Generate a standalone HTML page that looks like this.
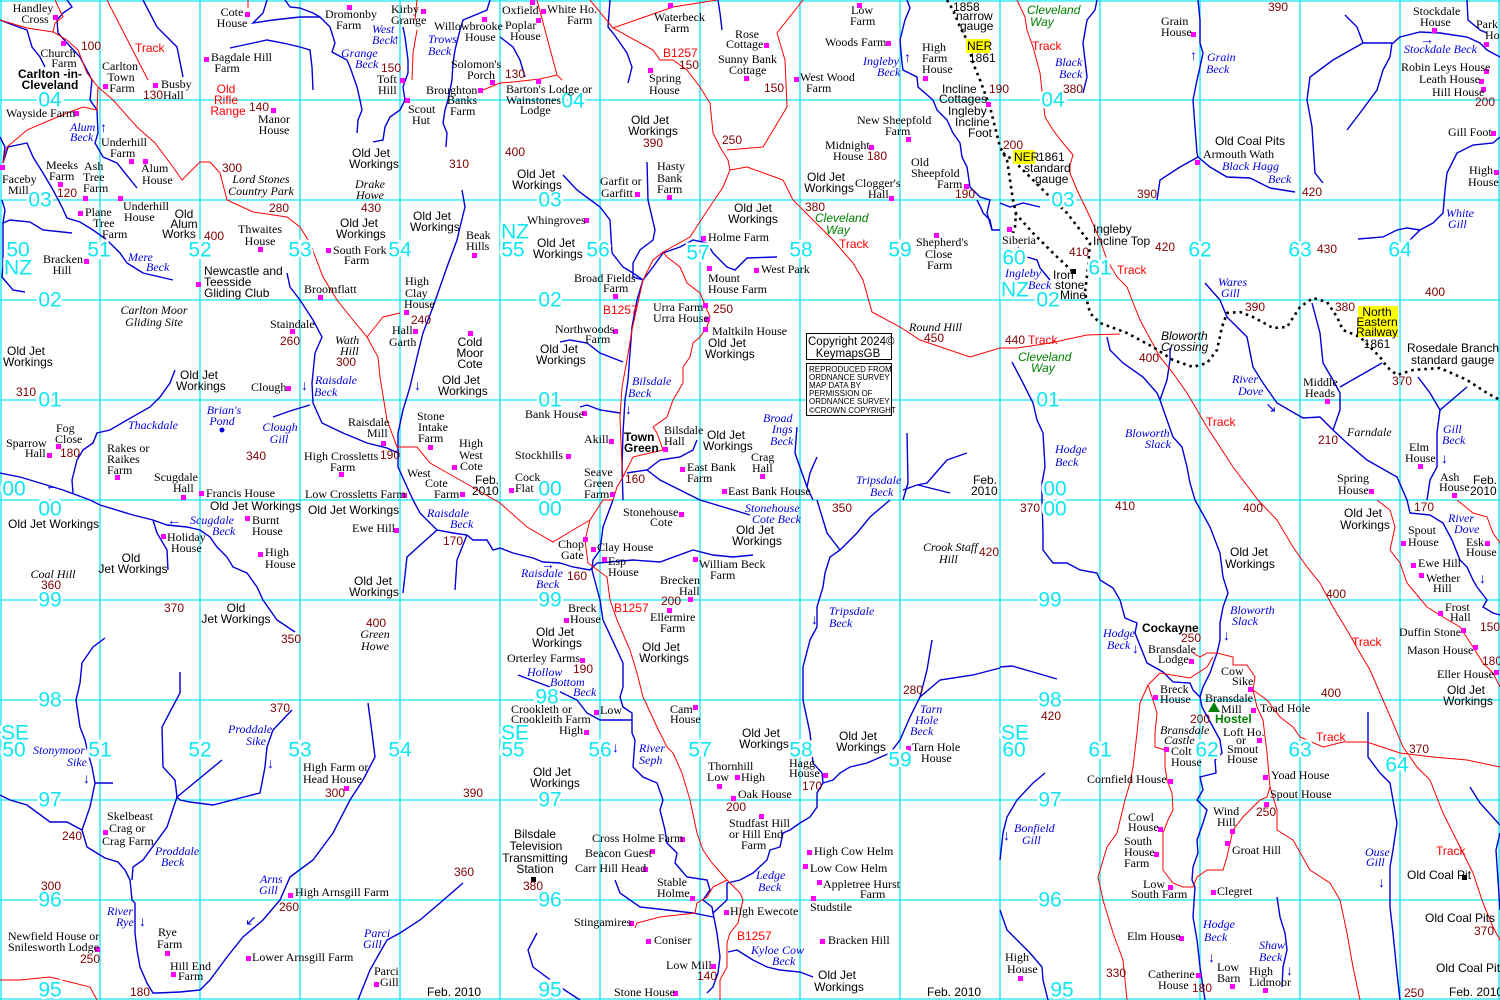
<!DOCTYPE html>
<html><head><meta charset="utf-8"><style>
html,body{margin:0;padding:0;background:#fff}
svg{display:block;font-size:12px}
.t{font-family:"Liberation Serif",serif;fill:#000}
.s{font-family:"Liberation Sans",sans-serif;fill:#000}
.h{font-family:"Liberation Sans",sans-serif;fill:#800000}
.b{font-family:"Liberation Serif",serif;font-style:italic;fill:#0000e0}
.r{font-family:"Liberation Sans",sans-serif;fill:#f00}
.g{font-family:"Liberation Sans",sans-serif;font-style:italic;fill:#008000}
.i{font-family:"Liberation Serif",serif;font-style:italic;fill:#000}
.k{font-family:"Liberation Sans",sans-serif;font-weight:bold;fill:#000}
.c{font-family:"Liberation Sans",sans-serif;font-size:21px;fill:#10e6f0;stroke:#fff;stroke-width:5px;paint-order:stroke;text-anchor:middle;dominant-baseline:central}
.m{text-anchor:middle}
.sm{font-family:"Liberation Sans",sans-serif;font-size:8px;fill:#000}
.bl{fill:none;stroke:#0000d8;stroke-width:1.4}
.rd{fill:none;stroke:#f00;stroke-width:1}
.rl{fill:none;stroke:#000;stroke-width:2.6;stroke-dasharray:2.6 4}
</style></head><body>
<svg width="1500" height="1000" viewBox="0 0 1500 1000" xmlns="http://www.w3.org/2000/svg" font-size="12">
<rect width="1500" height="1000" fill="#fff"/>
<g stroke="#10e6f0" stroke-width="1.3">
<path d="M1 0V1000M100 0V1000M200 0V1000M300 0V1000M400 0V1000M500 0V1000M600 0V1000M700 0V1000M800 0V1000M900 0V1000M1000 0V1000M1100 0V1000M1200 0V1000M1300 0V1000M1400 0V1000M1499 0V1000"/>
<path d="M0 1H1500M0 100H1500M0 200H1500M0 300H1500M0 400H1500M0 500H1500M0 600H1500M0 700H1500M0 800H1500M0 900H1500M0 999H1500"/>
</g>
<g class="bl">
<polyline points="67,0 72,7 63,13 57,20 58,33 67,43 80,57 92,80 90,100 97,110 98,133 95,143 103,157 117,163 137,188"/>
<polyline points="0,20 13,25 27,30 32,47 40,57 45,67"/>
<polyline points="0,137 5,147 3,163 8,147 27,143 33,157 43,173 53,190 62,207 67,218 80,222 93,230 107,240 120,253 127,263 143,273 173,280"/>
<polyline points="2,200 5,210 3,223 10,220 30,222 43,230 72,233"/>
<polyline points="3,223 3,267 2,277 13,290 25,292"/>
<polyline points="143,0 157,27 177,47 183,77"/>
<polyline points="230,48 253,43 267,40 283,43 300,47 310,50 312,67 313,90"/>
<polyline points="267,0 263,13 253,23 273,20 300,17 320,17 330,27 335,43 332,52 347,60 350,67 357,87 360,100 362,110 358,120 357,133"/>
<polyline points="285,0 290,7 300,8 313,13 320,17"/>
<polyline points="403,27 405,37 408,60 408,73 403,87 405,100 400,110 390,117 385,127 383,140 373,142"/>
<polyline points="490,0 487,10 480,13 463,20 460,30 455,50 453,63 452,80 448,100 445,110 443,123 447,133 446,147"/>
<polyline points="462,190 465,207 460,227 457,240 447,267 440,287 433,307 423,333 418,353 410,387 403,410 398,433 398,467 413,500 420,513 437,530 453,533 467,535 473,540 487,540 493,550 500,548 513,553 533,558 543,562 560,563 573,567 590,570"/>
<polyline points="287,273 290,287 300,300 313,320 322,337 315,353 312,383 313,403 322,423 343,433 367,443 387,448 398,453"/>
<polyline points="273,417 293,410 310,405"/>
<polyline points="175,370 170,383 160,397 150,407 127,420 110,430 97,433 93,443 83,450 77,460 72,480 73,493"/>
<polyline points="0,473 20,477 40,483 63,490 90,500 100,505 133,515 153,520 167,525 187,527 200,530 210,537 217,547 227,557 233,567 247,573 257,587 263,600 277,620 295,632"/>
<polyline points="153,520 157,533 167,550 168,570"/>
<polyline points="437,530 407,557 403,593"/>
<polyline points="467,535 457,560 455,590"/>
<polyline points="718,0 720,13 722,30"/>
<polyline points="610,0 608,27 613,33 618,40 627,53 632,67 628,83"/>
<polyline points="500,37 513,47 520,60 525,77"/>
<polyline points="563,175 577,190 600,207 610,220 612,253 623,267 633,273 643,280"/>
<polyline points="647,162 648,200 655,230 653,240 640,250 633,263 633,277 643,280"/>
<polyline points="643,280 653,267 663,253 680,247 693,240 707,243 713,253 727,267 735,270 747,258 777,257"/>
<polyline points="643,280 637,300 632,327 630,353 628,380 625,400 623,433 622,467 623,500"/>
<polyline points="560,342 570,340 587,343 600,353 623,362"/>
<polyline points="580,407 587,405 600,410 620,413"/>
<polyline points="697,440 693,450 680,457 660,460 647,470 633,472 627,473"/>
<polyline points="647,470 660,480 680,490 700,500 750,515"/>
<polyline points="797,427 795,453 802,473 807,487 813,500"/>
<polyline points="817,457 810,473 807,487"/>
<polyline points="907,433 908,483 903,500"/>
<polyline points="967,453 947,460 927,483 917,485 903,490"/>
<polyline points="918,485 950,493"/>
<polyline points="907,0 910,8 905,20 900,40 902,63 903,70 917,77 918,87 933,100 937,110 947,120 953,133 960,143 962,157 967,167 970,187 980,197 990,200 987,213 992,230 1000,230"/>
<polyline points="977,200 982,210 983,213 990,220 992,230"/>
<polyline points="1000,203 1010,207 1023,203 1040,207"/>
<polyline points="1018,247 1027,257 1037,260 1040,268 1050,280"/>
<polyline points="1097,0 1095,10 1087,20 1083,43 1085,60 1087,77 1083,93"/>
<polyline points="1198,0 1200,20 1200,43 1203,53 1200,67 1197,80 1193,100 1195,127 1197,153 1198,157"/>
<polyline points="1198,157 1180,167 1160,180 1157,200"/>
<polyline points="1198,157 1210,167 1227,177 1250,178 1270,188 1295,192"/>
<polyline points="1345,15 1357,27 1363,43 1393,43 1400,37 1420,32 1440,33 1467,37 1480,43 1487,50 1500,57"/>
<polyline points="1363,43 1333,60 1310,77 1307,100 1312,127 1313,143 1315,173 1323,183"/>
<polyline points="1392,43 1390,57 1383,70 1377,90 1360,113 1347,130"/>
<polyline points="1467,0 1468,20 1480,30 1487,33"/>
<polyline points="1500,137 1493,143 1473,145 1457,153 1447,173 1445,190 1443,213 1433,223 1420,230 1407,228 1397,230 1383,237 1358,239"/>
<polyline points="1420,230 1410,240"/>
<polyline points="1205,283 1220,300 1227,317 1247,337 1253,367 1263,383 1277,403 1303,418 1320,417 1333,430 1347,443 1367,460 1397,477 1407,500 1410,513 1430,515 1443,523 1452,540 1460,560 1467,567 1473,580 1477,587 1487,600 1483,607 1493,613 1500,615"/>
<polyline points="1312,303 1320,333 1323,363 1333,380 1340,393 1340,410 1333,430"/>
<polyline points="1340,387 1382,363"/>
<polyline points="1418,377 1430,393 1440,410 1467,387"/>
<polyline points="1440,410 1437,433 1437,467 1430,480 1427,500"/>
<polyline points="1107,337 1110,350 1123,363 1143,377 1157,393 1160,400 1167,420 1173,437 1182,447 1187,467 1190,483 1195,500 1210,527 1220,553 1223,577 1228,593 1223,607 1220,623 1220,640 1217,653 1210,673 1203,687 1200,697"/>
<polyline points="1160,400 1167,380 1170,360 1170,348"/>
<polyline points="1012,362 1023,383 1033,403 1037,420 1043,433 1045,467 1042,483 1042,500 1043,533 1043,550 1053,563 1067,563 1080,570 1097,573 1100,580 1113,588 1120,600 1125,618 1137,623 1135,633 1143,653 1147,663 1163,672 1173,682 1190,683 1193,690 1200,697"/>
<polyline points="105,638 93,647 82,663 80,683 76,700 80,727 85,740 88,753 92,767 95,783 90,807 82,830 87,847 100,855 105,858 118,862 125,870 130,880 132,900 135,903 135,933 137,950 140,967 147,983 153,993 157,993 180,992 200,990"/>
<polyline points="95,783 113,783"/>
<polyline points="0,795 10,800 27,805 50,822 67,822 82,830"/>
<polyline points="180,672 180,693 162,727 163,767 175,780 177,797 180,800 190,802 213,805 240,798 260,793 265,767 267,747 273,730 292,710"/>
<polyline points="222,760 177,797 167,827 143,860 133,867 132,880"/>
<polyline points="368,703 372,733 375,757 363,780 350,800 333,833 313,860 290,877 280,900 263,920 243,937 227,957 210,980 200,990"/>
<polyline points="463,883 440,903 420,920 400,933 387,940 370,970 358,1000"/>
<polyline points="613,500 603,527 600,550 593,560 592,570 600,600 603,620 617,650 623,663 623,687 620,697 623,707 632,713 632,733 635,740 633,767 643,777 657,783 663,800 660,810 665,830 667,843 677,853 675,863 687,877 707,880 710,890 703,900 712,907 713,913 717,933 720,957 718,973 713,987 707,993"/>
<polyline points="518,675 550,687 577,700 587,713 600,720 632,720"/>
<polyline points="615,880 620,893 640,907 667,910 693,913 713,917"/>
<polyline points="537,933 528,950 533,967 560,987 580,1000"/>
<polyline points="713,913 727,900 727,883 740,880 753,873 767,860 770,850 780,847 783,833 790,830 800,823 810,817 817,807 817,793 823,783 822,773 813,763 810,733 803,700 803,667 810,640 817,627 817,607 823,587 825,573 830,557 840,550 827,533 817,500"/>
<polyline points="840,550 857,533 870,517 890,500"/>
<polyline points="823,783 833,780 840,773 850,767 867,763 890,753 900,740 910,717 920,697 927,670 932,640"/>
<polyline points="920,697 940,680 973,675 1000,668"/>
<polyline points="728,952 737,950 753,960 767,967 780,970 800,972 813,977"/>
<polyline points="590,570 597,563 610,562 633,560 660,562 693,550 713,555 733,557 753,555"/>
<polyline points="1200,697 1202,707 1213,727 1220,740 1222,753 1215,760 1216,773 1200,777 1203,790 1197,800 1207,810 1203,823 1197,840 1198,853 1193,867 1192,880 1195,887 1193,917 1197,940 1200,967 1203,987 1205,1000"/>
<polyline points="1000,667 1012,666 1033,672 1057,679"/>
<polyline points="1045,773 1033,783 1017,800 1007,817 1003,833 1000,860"/>
<polyline points="1000,910 1007,930 1020,943 1030,953 1042,967 1043,980 1048,1000"/>
<polyline points="1368,712 1368,757 1380,773 1390,783 1393,800 1397,823 1393,850 1390,867 1390,907 1393,933 1397,973 1400,1000"/>
<polyline points="1277,897 1280,917 1285,933 1287,950 1283,967 1282,987"/>
<polyline points="1470,787 1480,803 1500,825"/>
<polyline points="1500,833 1496,850 1500,910"/>
</g>
<g class="b" style="font-style:normal;font-size:14px">
<text x="100" y="132">↑</text><text x="393" y="44">↑</text><text x="1190" y="60">↑</text><text x="904" y="62">↑</text>
<text x="301" y="390">↓</text><text x="414" y="390">↓</text><text x="625" y="414">↓</text><text x="612" y="752">↓</text>
<text x="811" y="624">↓</text><text x="267" y="768">↓</text><text x="83" y="783">↓</text><text x="139" y="926">↓</text>
<text x="1132" y="653">↓</text><text x="1223" y="640">↓</text><text x="1441" y="463">↓</text><text x="1479" y="583">↓</text>
<text x="1003" y="840">↓</text><text x="1378" y="887">↓</text><text x="1208" y="962">↓</text><text x="1286" y="975">↓</text>
<text x="45" y="490">←</text><text x="167" y="525">←</text><text x="541" y="569">→</text><text x="1420" y="44">→</text>
<text x="1265" y="412">↘</text><text x="245" y="925">↙</text>
</g>
<g class="rd">
<polyline points="0,20 27,28 53,32"/>
<polyline points="55,0 63,17 55,23 53,32 55,33 67,40 78,50 87,73 98,87 97,110 83,107 67,113 27,130 7,147 3,163"/>
<polyline points="98,87 113,100 137,127 155,143 173,167 182,180 200,162 210,162 220,173 227,200 253,212 287,217 300,227 310,243 323,277 337,300 353,320 367,337 378,357 380,377 387,420 397,447 417,447 430,463 460,480 500,503 527,527 553,542 573,530 590,520"/>
<polyline points="367,337 383,317 400,313"/>
<polyline points="107,0 148,80"/>
<polyline points="248,0 248,8"/>
<polyline points="417,30 413,53 412,80"/>
<polyline points="417,0 415,20"/>
<polyline points="483,90 500,83 513,82 540,79 557,75 562,80"/>
<polyline points="537,0 557,75"/>
<polyline points="590,0 613,28 653,50 660,60 673,60 687,70 700,87 710,103 713,133 720,147 728,160 730,170 723,187 703,217 690,237 663,252 653,260 643,280 637,307 632,330 627,360 622,387 620,417 622,467 623,477 617,487 613,500 603,500 590,520 585,540 588,563 607,577 610,600 617,620 630,650 637,673 643,697 657,727 667,747 673,753 682,773 690,800 697,833 703,850 712,863 727,880 740,893 743,900 738,923 730,933 727,943 727,967 720,980 720,1000"/>
<polyline points="613,28 673,7 717,0"/>
<polyline points="803,0 777,33 785,60 787,107 763,147 727,150"/>
<polyline points="730,170 747,167 783,180 793,200 833,240 853,263 863,280 872,312 900,327 920,340 970,357 1000,348 1017,348 1050,343 1087,335 1120,334"/>
<polyline points="663,252 667,257 680,267 687,283 700,293 703,300 710,317 707,327 700,337 693,343 690,357 683,367 683,383 673,400 667,417 653,427 657,433 663,450 650,453 633,457 623,477"/>
<polyline points="1017,0 1025,17 1027,30 1033,47 1040,73 1043,100 1045,117 1053,130 1063,143 1073,155 1070,165 1070,173 1077,190 1090,217 1100,240 1107,260 1117,277 1127,287 1132,300 1140,320 1147,333 1160,357 1173,373 1187,393 1207,427 1233,467 1258,500 1277,520 1293,547 1307,567 1320,583 1333,607 1347,630 1360,653 1370,670 1383,700 1393,723 1403,747 1417,767 1430,780 1443,813 1460,847 1473,873 1483,903 1493,927 1500,940"/>
<polyline points="1377,500 1390,510 1395,527 1390,550 1400,563 1407,583 1427,607 1443,617 1460,627 1473,647 1483,663 1493,673 1500,687"/>
<polyline points="1457,500 1473,513 1487,517 1493,533 1500,543"/>
<polyline points="1193,653 1200,657 1207,653 1217,653 1233,657 1233,665 1247,665 1255,677 1253,690 1257,707 1263,720 1267,753 1270,787 1267,797 1260,800 1253,807 1243,817 1233,830 1230,843 1227,857 1223,870 1207,870 1197,877 1193,887 1183,887 1173,883 1163,870 1163,853 1163,833 1168,820 1173,810 1172,793 1167,780 1165,767 1165,750 1155,747 1155,733 1157,713 1153,700 1148,685 1160,673 1190,678 1207,667 1213,657"/>
<polyline points="1148,685 1140,703 1137,733 1133,767 1130,783 1125,800 1117,833 1107,847 1098,877 1103,900 1113,933 1123,960 1127,1000"/>
<polyline points="1253,690 1267,700 1280,717 1293,727 1300,737 1323,747 1343,742 1367,742 1400,753 1433,757 1467,760 1500,767"/>
<polyline points="1270,787 1277,810 1277,830 1293,840 1310,870 1330,883 1340,900 1347,933 1353,967 1360,1000"/>
<polyline points="0,980 20,980 50,977 90,987 97,1000"/>
<polyline points="727,880 713,887 707,897 697,903 695,913 660,917 637,923 635,928"/>
</g>
<g class="rl">
<polyline points="947,0 953,10 960,27 967,40 973,63 980,80 990,107 1000,147 1007,160 1010,180 1013,200 1016,213 1015,227 1013,233"/>
<polyline points="1003,153 1013,160 1030,177 1050,197 1067,213 1090,243 1088,267 1085,293 1090,313 1100,323 1127,333 1153,347 1173,360 1193,367 1207,363 1217,350 1222,327 1227,313 1240,312 1253,317 1273,328 1287,327 1300,307 1313,298 1327,302 1337,317 1343,330 1360,337 1380,357 1387,367 1397,375 1413,370 1440,368 1467,380 1487,393 1500,400"/>
<polyline points="1015,213 1033,233 1053,253 1073,272"/>
</g>
<rect x="966" y="39" width="24" height="14" fill="#ff0"/>
<rect x="1013" y="150" width="22" height="14" fill="#ff0"/>
<rect x="1358" y="306" width="40" height="31" fill="#ff0"/>
<rect x="806.5" y="333.5" width="85" height="26" fill="#fff" stroke="#000"/>
<rect x="806.5" y="363.5" width="85" height="52" fill="#fff" stroke="#000"/>
<text class="s" x="808" y="345" style="font-size:11.5px">Copyright 2024©</text>
<text class="s" x="848" y="357" text-anchor="middle" style="font-size:11.5px">KeymapsGB</text>
<text class="sm" x="809" y="372">REPRODUCED FROM</text>
<text class="sm" x="809" y="380">ORDNANCE SURVEY</text>
<text class="sm" x="809" y="388">MAP DATA BY</text>
<text class="sm" x="809" y="396">PERMISSION OF</text>
<text class="sm" x="809" y="404">ORDNANCE SURVEY</text>
<text class="sm" x="809" y="413">©CROWN COPYRIGHT</text>
<path fill="#f0f" d="M53 15h5v5h-5zM61 41h5v5h-5zM103 84h5v5h-5zM153 83h5v5h-5zM245 12h5v5h-5zM204 57h5v5h-5zM271 108h5v5h-5zM74 111h5v5h-5zM129 159h5v5h-5zM143 159h5v5h-5zM58 182h5v5h-5zM83 196h5v5h-5zM0 165h5v5h-5zM118 196h5v5h-5zM78 211h5v5h-5zM258 247h5v5h-5zM84 259h5v5h-5zM196 282h5v5h-5zM318 295h5v5h-5zM290 329h5v5h-5zM404 310h5v5h-5zM413 329h5v5h-5zM468 331h5v5h-5zM286 386h5v5h-5zM472 253h5v5h-5zM326 248h5v5h-5zM347 5h5v5h-5zM421 9h5v5h-5zM400 78h5v5h-5zM482 17h5v5h-5zM490 80h5v5h-5zM478 88h5v5h-5zM405 98h5v5h-5zM47 453h5v5h-5zM56 444h5v5h-5zM115 475h5v5h-5zM181 495h5v5h-5zM199 491h5v5h-5zM339 472h5v5h-5zM381 441h5v5h-5zM428 445h5v5h-5zM452 465h5v5h-5zM460 492h5v5h-5zM402 493h5v5h-5zM530 0h5v5h-5zM536 18h5v5h-5zM541 9h5v5h-5zM536 79h5v5h-5zM668 3h5v5h-5zM648 68h5v5h-5zM764 43h5v5h-5zM744 76h5v5h-5zM794 77h5v5h-5zM857 3h5v5h-5zM886 41h5v5h-5zM923 76h5v5h-5zM986 102h5v5h-5zM906 137h5v5h-5zM869 145h5v5h-5zM889 196h5v5h-5zM964 184h5v5h-5zM667 195h5v5h-5zM635 192h5v5h-5zM584 218h5v5h-5zM701 236h5v5h-5zM707 266h5v5h-5zM754 268h5v5h-5zM934 233h5v5h-5zM613 294h5v5h-5zM703 303h5v5h-5zM705 317h5v5h-5zM613 329h5v5h-5zM703 327h5v5h-5zM582 411h5v5h-5zM609 439h5v5h-5zM663 447h5v5h-5zM760 474h5v5h-5zM566 454h5v5h-5zM680 467h5v5h-5zM509 488h5v5h-5zM610 492h5v5h-5zM722 489h5v5h-5zM1191 32h5v5h-5zM1432 28h5v5h-5zM1484 42h5v5h-5zM1484 69h5v5h-5zM1479 79h5v5h-5zM1481 87h5v5h-5zM1491 131h5v5h-5zM1494 170h5v5h-5zM1195 160h5v5h-5zM1007 227h5v5h-5zM1325 399h5v5h-5zM1418 464h5v5h-5zM1369 489h5v5h-5zM1452 493h5v5h-5zM161 534h5v5h-5zM245 516h5v5h-5zM258 552h5v5h-5zM394 528h5v5h-5zM103 830h5v5h-5zM344 786h5v5h-5zM288 893h5v5h-5zM95 947h5v5h-5zM165 951h5v5h-5zM171 972h5v5h-5zM246 956h5v5h-5zM374 982h5v5h-5zM679 512h5v5h-5zM583 537h5v5h-5zM591 547h5v5h-5zM602 557h5v5h-5zM693 557h5v5h-5zM688 597h5v5h-5zM667 608h5v5h-5zM564 618h5v5h-5zM580 658h5v5h-5zM584 730h5v5h-5zM594 710h5v5h-5zM693 705h5v5h-5zM906 746h5v5h-5zM735 775h5v5h-5zM717 784h5v5h-5zM823 773h5v5h-5zM731 796h5v5h-5zM759 814h5v5h-5zM680 837h5v5h-5zM650 849h5v5h-5zM643 867h5v5h-5zM807 850h5v5h-5zM803 864h5v5h-5zM817 880h5v5h-5zM690 896h5v5h-5zM811 896h5v5h-5zM724 910h5v5h-5zM629 921h5v5h-5zM646 939h5v5h-5zM820 939h5v5h-5zM711 964h5v5h-5zM673 991h5v5h-5zM1401 541h5v5h-5zM1485 541h5v5h-5zM1411 563h5v5h-5zM1419 573h5v5h-5zM1438 611h5v5h-5zM1461 628h5v5h-5zM1189 659h5v5h-5zM1473 645h5v5h-5zM1248 687h5v5h-5zM1494 670h5v5h-5zM1153 695h5v5h-5zM1251 708h5v5h-5zM1164 747h5v5h-5zM1257 738h5v5h-5zM1168 779h5v5h-5zM1263 775h5v5h-5zM1264 802h5v5h-5zM1158 827h5v5h-5zM1230 829h5v5h-5zM1154 852h5v5h-5zM1225 841h5v5h-5zM1168 885h5v5h-5zM1211 890h5v5h-5zM1179 936h5v5h-5zM1018 976h5v5h-5zM1196 973h5v5h-5zM1230 984h5v5h-5zM1263 988h5v5h-5z"/>
<path fill="#000" d="M1071 269h5v5h-5zM531 877h5v5h-5zM1462 875h5v5h-5z"/>
<circle cx="222" cy="430" r="2.5" fill="#0000d8"/>
<path d="M1208 712l6 -10l6 10z" fill="#008000"/>
<g class="c">
<text x="50" y="100">04</text><text x="573" y="101">04</text><text x="1053" y="100">04</text>
<text x="40" y="200">03</text><text x="550" y="200">03</text><text x="1063" y="200">03</text>
<text x="50" y="300">02</text><text x="550" y="300">02</text><text x="1048" y="300">02</text>
<text x="50" y="400">01</text><text x="550" y="400">01</text><text x="1048" y="400">01</text>
<text x="14" y="489">00</text><text x="50" y="509">00</text><text x="550" y="489">00</text><text x="550" y="509">00</text><text x="1055" y="489">00</text><text x="1055" y="509">00</text>
<text x="50" y="600">99</text><text x="550" y="600">99</text><text x="1050" y="600">99</text>
<text x="50" y="700">98</text><text x="547" y="697">98</text><text x="1050" y="700">98</text>
<text x="50" y="800">97</text><text x="550" y="800">97</text><text x="1050" y="800">97</text>
<text x="50" y="900">96</text><text x="550" y="900">96</text><text x="1050" y="900">96</text>
<text x="50" y="990">95</text><text x="550" y="990">95</text><text x="1062" y="990">95</text>
<text x="18" y="250">50</text><text x="18" y="268">NZ</text><text x="99" y="250">51</text><text x="200" y="250">52</text><text x="300" y="250">53</text><text x="400" y="250">54</text>
<text x="515" y="232">NZ</text><text x="513" y="250">55</text><text x="598" y="250">56</text><text x="698" y="253">57</text><text x="801" y="250">58</text><text x="900" y="250">59</text>
<text x="1014" y="258">60</text><text x="1015" y="290">NZ</text><text x="1100" y="268">61</text><text x="1200" y="250">62</text><text x="1300" y="250">63</text><text x="1400" y="250">64</text>
<text x="15" y="733">SE</text><text x="14" y="750">50</text><text x="100" y="750">51</text><text x="200" y="750">52</text><text x="300" y="750">53</text><text x="400" y="750">54</text>
<text x="515" y="733">SE</text><text x="513" y="750">55</text><text x="600" y="750">56</text><text x="700" y="750">57</text><text x="801" y="750">58</text><text x="900" y="760">59</text>
<text x="1015" y="733">SE</text><text x="1014" y="750">60</text><text x="1100" y="750">61</text><text x="1207" y="750">62</text><text x="1300" y="750">63</text><text x="1397" y="765">64</text>
</g>
<g class="t">
<text x="33" y="12" class="t m">Handley</text><text x="35" y="23" class="t m">Cross</text>
<text x="58" y="57" class="t m">Church</text><text x="64" y="67" class="t m">Farm</text>
<text x="120" y="70" class="t m">Carlton</text><text x="121" y="81" class="t m">Town</text><text x="122" y="92" class="t m">Farm</text>
<text x="161" y="88">Busby</text><text x="163" y="99">Hall</text>
<text x="232" y="16" class="t m">Cote</text><text x="232" y="27" class="t m">House</text>
<text x="211" y="61">Bagdale Hill</text><text x="227" y="72" class="t m">Farm</text>
<text x="274" y="123" class="t m">Manor</text><text x="274" y="134" class="t m">House</text>
<text x="6" y="117">Wayside Farm</text>
<text x="101" y="146">Underhill</text><text x="110" y="157">Farm</text>
<text x="141" y="172">Alum</text><text x="142" y="184">House</text>
<text x="46" y="169">Meeks</text><text x="49" y="180">Farm</text>
<text x="84" y="170">Ash</text><text x="83" y="181">Tree</text><text x="83" y="192">Farm</text>
<text x="2" y="183">Faceby</text><text x="8" y="194">Mill</text>
<text x="85" y="216">Plane</text><text x="93" y="227">Tree</text><text x="102" y="238">Farm</text>
<text x="123" y="210">Underhill</text><text x="124" y="221">House</text>
<text x="260" y="233" class="t m">Thwaites</text><text x="260" y="245" class="t m">House</text>
<text x="43" y="263">Bracken</text><text x="62" y="274" class="t m">Hill</text>
<text x="304" y="293">Broomflatt</text>
<text x="270" y="328">Staindale</text>
<text x="405" y="285">High</text><text x="405" y="297">Clay</text><text x="404" y="308">House</text>
<text x="392" y="334">Hall</text><text x="389" y="346">Garth</text>
<text x="251" y="391">Clough</text>
<text x="466" y="239">Beak</text><text x="466" y="250">Hills</text>
<text x="333" y="254">South Fork</text><text x="344" y="264">Farm</text>
<text x="325" y="18">Dromonby</text><text x="336" y="29">Farm</text>
<text x="391" y="13">Kirby</text><text x="391" y="24">Grange</text>
<text x="377" y="83">Toft</text><text x="378" y="94">Hill</text>
<text x="434" y="30">Willowbrooke</text><text x="465" y="41">House</text>
<text x="451" y="68">Solomon's</text><text x="467" y="79">Porch</text>
<text x="426" y="94">Broughton</text><text x="447" y="104">Banks</text><text x="450" y="115">Farm</text>
<text x="408" y="113">Scout</text><text x="412" y="124">Hut</text>
<text x="6" y="447">Sparrow</text><text x="25" y="457">Hall</text>
<text x="56" y="432">Fog</text><text x="55" y="443">Close</text>
<text x="107" y="452">Rakes or</text><text x="107" y="463">Raikes</text><text x="107" y="474">Farm</text>
<text x="154" y="481">Scugdale</text><text x="173" y="492">Hall</text>
<text x="206" y="497">Francis House</text>
<text x="304" y="460">High Crossletts</text><text x="330" y="471">Farm</text>
<text x="348" y="426">Raisdale</text><text x="367" y="437">Mill</text>
<text x="417" y="420">Stone</text><text x="418" y="431">Intake</text><text x="418" y="442">Farm</text>
<text x="459" y="447">High</text><text x="459" y="459">West</text><text x="460" y="470">Cote</text>
<text x="407" y="477">West</text><text x="425" y="487">Cote</text><text x="434" y="498">Farm</text>
<text x="305" y="498">Low Crossletts Farm</text>
<text x="502" y="14">Oxfield</text><text x="505" y="29">Poplar</text><text x="510" y="40">House</text>
<text x="547" y="13">White Ho.</text><text x="567" y="24">Farm</text>
<text x="506" y="93">Barton's Lodge or</text><text x="506" y="104">Wainstones</text><text x="520" y="114">Lodge</text>
<text x="654" y="21">Waterbeck</text><text x="664" y="32">Farm</text>
<text x="649" y="82">Spring</text><text x="649" y="94">House</text>
<text x="735" y="38">Rose</text><text x="726" y="48">Cottage</text>
<text x="718" y="63">Sunny Bank</text><text x="729" y="74">Cottage</text>
<text x="800" y="81">West Wood</text><text x="806" y="92">Farm</text>
<text x="851" y="14">Low</text><text x="850" y="25">Farm</text>
<text x="825" y="46">Woods Farm</text>
<text x="922" y="51">High</text><text x="922" y="62">Farm</text><text x="922" y="73">House</text>
<text x="857" y="124">New Sheepfold</text><text x="885" y="135">Farm</text>
<text x="825" y="149">Midnight</text><text x="833" y="160">House</text>
<text x="855" y="187">Clogger's</text><text x="868" y="198">Hall</text>
<text x="911" y="166">Old</text><text x="911" y="177">Sheepfold</text><text x="937" y="188">Farm</text>
<text x="657" y="170">Hasty</text><text x="657" y="182">Bank</text><text x="657" y="193">Farm</text>
<text x="600" y="185">Garfit or</text><text x="601" y="197">Garfitt</text>
<text x="527" y="224">Whingroves</text>
<text x="708" y="241">Holme Farm</text>
<text x="708" y="282">Mount</text><text x="708" y="293">House Farm</text>
<text x="761" y="273">West Park</text>
<text x="916" y="246">Shepherd's</text><text x="925" y="258">Close</text><text x="927" y="269">Farm</text>
<text x="574" y="282">Broad Fields</text><text x="603" y="292">Farm</text>
<text x="653" y="311">Urra Farm</text><text x="653" y="322">Urra House</text>
<text x="555" y="333">Northwoods</text><text x="585" y="343">Farm</text>
<text x="712" y="335">Maltkiln House</text>
<text x="525" y="418">Bank House</text>
<text x="584" y="443">Akill</text>
<text x="664" y="434">Bilsdale</text><text x="664" y="445">Hall</text>
<text x="751" y="461">Crag</text><text x="752" y="472">Hall</text>
<text x="515" y="459">Stockhills</text>
<text x="687" y="471">East Bank</text><text x="687" y="482">Farm</text>
<text x="515" y="481">Cock</text><text x="515" y="492">Flat</text>
<text x="584" y="476">Seave</text><text x="584" y="487">Green</text><text x="584" y="498">Farm</text>
<text x="728" y="495">East Bank House</text>
<text x="1161" y="25">Grain</text><text x="1161" y="36">House</text>
<text x="1413" y="15">Stockdale</text><text x="1420" y="26">House</text>
<text x="1476" y="28">Park</text><text x="1485" y="39">Ho</text>
<text x="1401" y="71">Robin Leys House</text><text x="1419" y="83">Leath House</text><text x="1432" y="96">Hill House</text>
<text x="1448" y="136">Gill Foot</text>
<text x="1469" y="174">High</text><text x="1468" y="186">House</text>
<text x="1203" y="158">Armouth Wath</text>
<text x="1002" y="244">Siberia</text>
<text x="1303" y="386">Middle</text><text x="1305" y="397">Heads</text>
<text x="1409" y="451">Elm</text><text x="1405" y="462">House</text>
<text x="1337" y="482">Spring</text><text x="1338" y="494">House</text>
<text x="1440" y="481">Ash</text><text x="1439" y="491">House</text>
<text x="167" y="541">Holiday</text><text x="171" y="552">House</text>
<text x="252" y="524">Burnt</text><text x="252" y="535">House</text>
<text x="265" y="556">High</text><text x="265" y="568">House</text>
<text x="352" y="532">Ewe Hill</text>
<text x="303" y="771">High Farm or</text><text x="303" y="783">Head House</text>
<text x="107" y="820">Skelbeast</text><text x="109" y="832">Crag or</text><text x="102" y="845">Crag Farm</text>
<text x="295" y="896">High Arnsgill Farm</text>
<text x="8" y="940">Newfield House or</text><text x="8" y="951">Snilesworth Lodge</text>
<text x="158" y="936">Rye</text><text x="157" y="948">Farm</text>
<text x="170" y="970">Hill End</text><text x="178" y="980">Farm</text>
<text x="252" y="961">Lower Arnsgill Farm</text>
<text x="374" y="975">Parci</text><text x="380" y="986">Gill</text>
<text x="623" y="516">Stonehouse</text><text x="650" y="526">Cote</text>
<text x="558" y="548">Chop</text><text x="561" y="559">Gate</text>
<text x="597" y="551">Clay House</text>
<text x="608" y="565">Esp</text><text x="608" y="576">House</text>
<text x="699" y="568">William Beck</text><text x="710" y="579">Farm</text>
<text x="660" y="584">Brecken</text><text x="679" y="595">Hall</text>
<text x="650" y="621">Ellermire</text><text x="660" y="632">Farm</text>
<text x="568" y="612">Breck</text><text x="570" y="623">House</text>
<text x="507" y="662">Orterley Farms</text>
<text x="511" y="713">Crookleth or</text><text x="511" y="723">Crookleith Farm</text><text x="559" y="734">High</text>
<text x="600" y="714">Low</text>
<text x="670" y="713">Cam</text><text x="670" y="723">House</text>
<text x="912" y="751">Tarn Hole</text><text x="921" y="762">House</text>
<text x="708" y="770">Thornhill</text><text x="741" y="781">High</text><text x="707" y="781">Low</text>
<text x="789" y="767">Hagg</text><text x="789" y="777">House</text>
<text x="738" y="798">Oak House</text>
<text x="729" y="827">Studfast Hill</text><text x="729" y="838">or Hill End</text><text x="741" y="849">Farm</text>
<text x="592" y="842">Cross Holme Farm</text>
<text x="585" y="857">Beacon Guest</text>
<text x="575" y="872">Carr Hill Head</text>
<text x="814" y="855">High Cow Helm</text>
<text x="810" y="872">Low Cow Helm</text>
<text x="823" y="888">Appletree Hurst</text><text x="860" y="898">Farm</text>
<text x="657" y="886">Stable</text><text x="657" y="897">Holme</text>
<text x="810" y="911">Studstile</text>
<text x="730" y="915">High Ewecote</text>
<text x="574" y="926">Stingamires</text>
<text x="654" y="944">Coniser</text>
<text x="828" y="944">Bracken Hill</text>
<text x="666" y="969">Low Mill</text>
<text x="614" y="996">Stone House</text>
<text x="1408" y="534">Spout</text><text x="1408" y="546">House</text>
<text x="1466" y="546">Esk</text><text x="1466" y="556">House</text>
<text x="1418" y="567">Ewe Hill</text>
<text x="1426" y="582">Wether</text><text x="1433" y="592">Hill</text>
<text x="1445" y="611">Frost</text><text x="1450" y="621">Hall</text>
<text x="1399" y="636">Duffin Stone</text>
<text x="1148" y="653">Bransdale</text><text x="1158" y="663">Lodge</text>
<text x="1407" y="654">Mason House</text>
<text x="1221" y="675">Cow</text><text x="1232" y="685">Sike</text>
<text x="1437" y="678">Eller House</text>
<text x="1160" y="693">Breck</text><text x="1160" y="703">House</text>
<text x="1205" y="702">Bransdale</text><text x="1221" y="713">Mill</text>
<text x="1260" y="712">Toad Hole</text>
<text x="1171" y="755">Colt</text><text x="1171" y="766">House</text>
<text x="1223" y="736">Loft Ho.</text><text x="1236" y="744">or</text><text x="1227" y="753">Smout</text><text x="1227" y="763">House</text>
<text x="1087" y="783">Cornfield House</text>
<text x="1271" y="779">Yoad House</text>
<text x="1270" y="798">Spout House</text>
<text x="1128" y="821">Cowl</text><text x="1128" y="831">House</text>
<text x="1213" y="815">Wind</text><text x="1217" y="826">Hill</text>
<text x="1124" y="845">South</text><text x="1124" y="856">House</text><text x="1124" y="867">Farm</text>
<text x="1232" y="854">Groat Hill</text>
<text x="1143" y="888">Low</text><text x="1131" y="898">South Farm</text>
<text x="1217" y="895">Clegret</text>
<text x="1127" y="940">Elm House</text>
<text x="1005" y="961">High</text><text x="1007" y="973">House</text>
<text x="1148" y="978">Catherine</text><text x="1158" y="989">House</text>
<text x="1217" y="971">Low</text><text x="1217" y="982">Barn</text>
<text x="1249" y="975">High</text><text x="1249" y="986">Lidmoor</text>
</g>
<g class="s">
<text x="184" y="218" class="s m">Old</text><text x="184" y="228" class="s m">Alum</text><text x="179" y="238" class="s m">Works</text>
<text x="204" y="275">Newcastle and</text><text x="204" y="286">Teesside</text><text x="204" y="297">Gliding Club</text>
<text x="7" y="355">Old Jet</text><text x="3" y="366">Workings</text>
<text x="470" y="346" class="s m">Cold</text><text x="470" y="357" class="s m">Moor</text><text x="470" y="368" class="s m">Cote</text>
<text x="180" y="379">Old Jet</text><text x="176" y="390">Workings</text>
<text x="442" y="384">Old Jet</text><text x="438" y="395">Workings</text>
<text x="413" y="220">Old Jet</text><text x="410" y="231">Workings</text>
<text x="340" y="227">Old Jet</text><text x="336" y="238">Workings</text>
<text x="371" y="157" class="s m">Old Jet</text><text x="374" y="168" class="s m">Workings</text>
<text x="475" y="484">Feb.</text><text x="472" y="495">2010</text>
<text x="953" y="11">1858</text><text x="956" y="20">narrow</text><text x="960" y="30">gauge</text>
<text x="967" y="50">NER</text><text x="969" y="62">1861</text>
<text x="942" y="93">Incline</text><text x="939" y="103">Cottages</text><text x="948" y="115">Ingleby</text><text x="955" y="126">Incline</text><text x="968" y="137">Foot</text>
<text x="650" y="124" class="s m">Old Jet</text><text x="653" y="135" class="s m">Workings</text>
<text x="826" y="181" class="s m">Old Jet</text><text x="829" y="192" class="s m">Workings</text>
<text x="536" y="178" class="s m">Old Jet</text><text x="537" y="189" class="s m">Workings</text>
<text x="537" y="247">Old Jet</text><text x="533" y="258">Workings</text>
<text x="753" y="212" class="s m">Old Jet</text><text x="753" y="223" class="s m">Workings</text>
<text x="708" y="347">Old Jet</text><text x="705" y="358">Workings</text>
<text x="540" y="353">Old Jet</text><text x="536" y="364">Workings</text>
<text x="707" y="439">Old Jet</text><text x="703" y="450">Workings</text>
<text x="973" y="484">Feb.</text><text x="971" y="495">2010</text>
<text x="1014" y="161">NER</text><text x="1038" y="161">1861</text><text x="1024" y="172">standard</text><text x="1035" y="183">gauge</text>
<text x="1215" y="145">Old Coal Pits</text>
<text x="1093" y="233">Ingleby</text><text x="1093" y="245">Incline Top</text>
<text x="1053" y="279">Iron</text><text x="1055" y="289">stone</text><text x="1060" y="299">Mine</text>
<text x="1377" y="316" class="s m">North</text><text x="1377" y="326" class="s m">Eastern</text><text x="1377" y="336" class="s m">Railway</text>
<text x="1377" y="348" class="s m">1861</text>
<text x="1407" y="352">Rosedale Branch</text><text x="1411" y="364">standard gauge</text>
<text x="1473" y="484">Feb.</text><text x="1470" y="495">2010</text>
<text x="8" y="528">Old Jet Workings</text>
<text x="131" y="562" class="s m">Old</text><text x="133" y="573" class="s m">Jet Workings</text>
<text x="210" y="510">Old Jet Workings</text>
<text x="308" y="514">Old Jet Workings</text>
<text x="373" y="585" class="s m">Old Jet</text><text x="374" y="596" class="s m">Workings</text>
<text x="236" y="612" class="s m">Old</text><text x="236" y="623" class="s m">Jet Workings</text>
<text x="427" y="996">Feb. 2010</text>
<text x="755" y="534" class="s m">Old Jet</text><text x="757" y="545" class="s m">Workings</text>
<text x="555" y="636" class="s m">Old Jet</text><text x="557" y="647" class="s m">Workings</text>
<text x="661" y="651" class="s m">Old Jet</text><text x="664" y="662" class="s m">Workings</text>
<text x="761" y="737" class="s m">Old Jet</text><text x="764" y="748" class="s m">Workings</text>
<text x="858" y="740" class="s m">Old Jet</text><text x="861" y="751" class="s m">Workings</text>
<text x="552" y="776" class="s m">Old Jet</text><text x="555" y="787" class="s m">Workings</text>
<text x="535" y="838" class="s m">Bilsdale</text><text x="536" y="850" class="s m">Television</text><text x="535" y="862" class="s m">Transmitting</text><text x="535" y="873" class="s m">Station</text>
<text x="837" y="979" class="s m">Old Jet</text><text x="839" y="991" class="s m">Workings</text>
<text x="927" y="996">Feb. 2010</text>
<text x="1363" y="517" class="s m">Old Jet</text><text x="1365" y="529" class="s m">Workings</text>
<text x="1249" y="556" class="s m">Old Jet</text><text x="1250" y="568" class="s m">Workings</text>
<text x="1466" y="694" class="s m">Old Jet</text><text x="1468" y="705" class="s m">Workings</text>
<text x="1407" y="879">Old Coal Pit</text>
<text x="1425" y="922">Old Coal Pits</text>
<text x="1436" y="972">Old Coal Pits</text>
<text x="1449" y="996">Feb. 2010</text>
</g>
<g class="k">
<text x="50" y="78" class="k m">Carlton -in-</text><text x="50" y="89" class="k m">Cleveland</text>
<text x="624" y="441">Town</text><text x="624" y="452">Green</text>
<text x="1142" y="632">Cockayne</text>
<text x="1215" y="723" style="fill:#008000">Hostel</text>
</g>
<g class="i">
<text x="154" y="314" class="i m">Carlton Moor</text><text x="154" y="326" class="i m">Gliding Site</text>
<text x="261" y="183" class="i m">Lord Stones</text><text x="261" y="195" class="i m">Country Park</text>
<text x="370" y="188" class="i m">Drake</text><text x="370" y="199" class="i m">Howe</text>
<text x="335" y="344">Wath</text><text x="340" y="355">Hill</text>
<text x="909" y="331">Round Hill</text>
<text x="1161" y="340" style="font-family:'Liberation Sans',sans-serif">Bloworth</text><text x="1161" y="351" style="font-family:'Liberation Sans',sans-serif">Crossing</text>
<text x="1347" y="436">Farndale</text>
<text x="53" y="578" class="i m">Coal Hill</text>
<text x="375" y="638" class="i m">Green</text><text x="375" y="650" class="i m">Howe</text>
<text x="923" y="551">Crook Staff</text><text x="939" y="563">Hill</text>
<text x="1160" y="734">Bransdale</text><text x="1164" y="744">Castle</text>
</g>
<g class="b">
<text x="70" y="131">Alum</text><text x="70" y="141">Beck</text>
<text x="128" y="261">Mere</text><text x="146" y="271">Beck</text>
<text x="315" y="384">Raisdale</text><text x="314" y="396">Beck</text>
<text x="372" y="33">West</text><text x="372" y="44">Beck</text>
<text x="341" y="57">Grange</text><text x="355" y="68">Beck</text>
<text x="428" y="43">Trows</text><text x="428" y="55">Beck</text>
<text x="128" y="429">Thackdale</text>
<text x="224" y="414" class="b m">Brian's</text><text x="222" y="425" class="b m">Pond</text>
<text x="280" y="431" class="b m">Clough</text><text x="279" y="443" class="b m">Gill</text>
<text x="863" y="65">Ingleby</text><text x="877" y="76">Beck</text>
<text x="632" y="385">Bilsdale</text><text x="628" y="397">Beck</text>
<text x="763" y="422">Broad</text><text x="772" y="433">Ings</text><text x="770" y="445">Beck</text>
<text x="856" y="484">Tripsdale</text><text x="870" y="496">Beck</text>
<text x="1055" y="66">Black</text><text x="1059" y="78">Beck</text>
<text x="1207" y="61">Grain</text><text x="1206" y="73">Beck</text>
<text x="1404" y="53">Stockdale Beck</text>
<text x="1222" y="170">Black Hagg</text><text x="1268" y="183">Beck</text>
<text x="1005" y="277">Ingleby</text><text x="1028" y="289">Beck</text>
<text x="1446" y="217">White</text><text x="1448" y="228">Gill</text>
<text x="1218" y="286">Wares</text><text x="1221" y="297">Gill</text>
<text x="1232" y="383">River</text><text x="1238" y="395">Dove</text>
<text x="1125" y="437">Bloworth</text><text x="1145" y="448">Slack</text>
<text x="1055" y="453">Hodge</text><text x="1055" y="466">Beck</text>
<text x="1443" y="433">Gill</text><text x="1442" y="444">Beck</text>
<text x="190" y="524">Scugdale</text><text x="212" y="535">Beck</text>
<text x="427" y="517">Raisdale</text><text x="450" y="528">Beck</text>
<text x="228" y="733">Proddale</text><text x="246" y="745">Sike</text>
<text x="33" y="754">Stonymoor</text><text x="67" y="766">Sike</text>
<text x="155" y="855">Proddale</text><text x="161" y="866">Beck</text>
<text x="260" y="883">Arns</text><text x="259" y="894">Gill</text>
<text x="107" y="915">River</text><text x="116" y="926">Rye</text>
<text x="364" y="937">Parci</text><text x="363" y="948">Gill</text>
<text x="745" y="512">Stonehouse</text><text x="752" y="523">Cote Beck</text>
<text x="521" y="577">Raisdale</text><text x="536" y="588">Beck</text>
<text x="527" y="676">Hollow</text><text x="550" y="686">Bottom</text><text x="573" y="696">Beck</text>
<text x="829" y="615">Tripsdale</text><text x="829" y="627">Beck</text>
<text x="920" y="713">Tarn</text><text x="915" y="724">Hole</text><text x="910" y="735">Beck</text>
<text x="639" y="752">River</text><text x="639" y="764">Seph</text>
<text x="756" y="879">Ledge</text><text x="758" y="891">Beck</text>
<text x="751" y="954">Kyloe Cow</text><text x="772" y="965">Beck</text>
<text x="1448" y="522">River</text><text x="1454" y="533">Dove</text>
<text x="1230" y="614">Bloworth</text><text x="1232" y="625">Slack</text>
<text x="1103" y="637">Hodge</text><text x="1107" y="649">Beck</text>
<text x="1014" y="832">Bonfield</text><text x="1022" y="844">Gill</text>
<text x="1365" y="856">Ouse</text><text x="1366" y="866">Gill</text>
<text x="1203" y="928">Hodge</text><text x="1204" y="941">Beck</text>
<text x="1259" y="949">Shaw</text><text x="1259" y="961">Beck</text>
</g>
<g class="r">
<text x="135" y="52">Track</text>
<text x="226" y="93" class="r m">Old</text><text x="226" y="104" class="r m">Rifle</text><text x="228" y="115" class="r m">Range</text>
<text x="663" y="57">B1257</text>
<text x="839" y="248">Track</text>
<text x="603" y="314">B1257</text>
<text x="1032" y="50">Track</text>
<text x="1117" y="274">Track</text>
<text x="1028" y="344">Track</text>
<text x="1206" y="426">Track</text>
<text x="614" y="612">B1257</text>
<text x="737" y="940">B1257</text>
<text x="1352" y="646">Track</text>
<text x="1316" y="741">Track</text>
<text x="1436" y="855">Track</text>
</g>
<g class="g">
<text x="815" y="222">Cleveland</text><text x="826" y="234">Way</text>
<text x="1027" y="14">Cleveland</text><text x="1030" y="26">Way</text>
<text x="1018" y="361">Cleveland</text><text x="1031" y="372">Way</text>
</g>
<g class="h">
<text x="81" y="50">100</text><text x="143" y="99">130</text><text x="249" y="111">140</text><text x="57" y="197">120</text>
<text x="204" y="240">400</text><text x="280" y="345">260</text><text x="336" y="366">300</text><text x="411" y="324">240</text>
<text x="16" y="396">310</text><text x="222" y="172">300</text><text x="269" y="212">280</text><text x="361" y="212">430</text>
<text x="449" y="168">310</text><text x="381" y="72">150</text><text x="60" y="457">180</text><text x="246" y="460">340</text>
<text x="380" y="459">190</text><text x="505" y="78">130</text><text x="679" y="69">150</text><text x="764" y="92">150</text>
<text x="989" y="93">190</text><text x="643" y="147">390</text><text x="505" y="156">400</text><text x="722" y="144">250</text>
<text x="867" y="160">180</text><text x="955" y="198">190</text><text x="805" y="211">380</text><text x="713" y="313">250</text>
<text x="924" y="342">450</text><text x="625" y="483">160</text><text x="1063" y="93">380</text><text x="1268" y="11">390</text>
<text x="1475" y="106">200</text><text x="1003" y="149">200</text><text x="1137" y="198">390</text><text x="1302" y="196">420</text>
<text x="1069" y="256">410</text><text x="1155" y="251">420</text><text x="1317" y="253">430</text><text x="1245" y="311">390</text>
<text x="1335" y="311">380</text><text x="1425" y="296">400</text><text x="1392" y="385">370</text><text x="1005" y="344">440</text>
<text x="1139" y="362">400</text><text x="1318" y="444">210</text>
<text x="443" y="545">170</text><text x="41" y="589">360</text><text x="164" y="612">370</text><text x="281" y="643">350</text>
<text x="366" y="627">400</text><text x="270" y="712">370</text><text x="325" y="797">300</text><text x="463" y="797">390</text>
<text x="62" y="840">240</text><text x="279" y="911">260</text><text x="41" y="890">300</text><text x="454" y="876">360</text>
<text x="80" y="963">250</text><text x="130" y="996">180</text>
<text x="832" y="512">350</text><text x="979" y="556">420</text><text x="567" y="580">160</text><text x="661" y="605">200</text>
<text x="573" y="673">190</text><text x="903" y="694">280</text><text x="802" y="790">170</text><text x="726" y="811">200</text>
<text x="523" y="890">380</text><text x="697" y="980">140</text>
<text x="1020" y="512">370</text><text x="1115" y="510">410</text><text x="1243" y="512">400</text><text x="1414" y="511">170</text>
<text x="1326" y="598">400</text><text x="1480" y="631">150</text><text x="1181" y="642">250</text><text x="1482" y="665">180</text>
<text x="1321" y="697">400</text><text x="1190" y="723">200</text><text x="1409" y="753">370</text><text x="1256" y="816">250</text>
<text x="1474" y="935">370</text><text x="1106" y="977">330</text><text x="1192" y="992">180</text><text x="1404" y="997">250</text>
<text x="1041" y="720">420</text>
</g>
</svg>
</body></html>
